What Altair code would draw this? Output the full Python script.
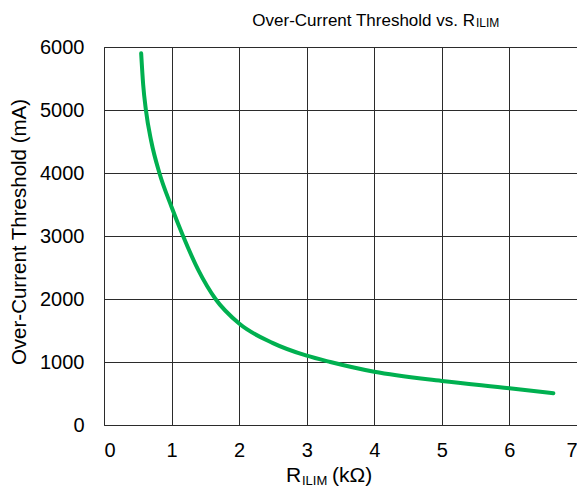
import altair as alt
import pandas as pd

# Data
r_kohm = [0.55, 0.58, 0.62, 0.70, 0.82, 1.00, 1.17, 1.40, 1.65, 2.00, 2.50, 3.00, 3.35, 4.00, 5.00, 6.00, 6.65]
ocp_ma = [5900, 5400, 5000, 4500, 4000, 3460, 3000, 2450, 2000, 1610, 1300, 1100, 1000, 845, 700, 585, 505]

x_ticks = [0, 1, 2, 3, 4, 5, 6, 7]
y_ticks = [0, 1000, 2000, 3000, 4000, 5000, 6000]

title_main = "Over-Current Threshold vs. R"
title_sub = "ILIM"
xtitle_main = "R"
xtitle_sub = "ILIM"
xtitle_unit = "(kΩ)"
ytitle = "Over-Current Threshold (mA)"

FONT = "Liberation Sans"
GRID = "#2b2b2b"

df = pd.DataFrame({"r": r_kohm, "i": ocp_ma})

W, H = 473, 378

line = alt.Chart(df).mark_line(
    color="#00B050", strokeWidth=4, interpolate="monotone", strokeCap="round"
).encode(
    x=alt.X("r:Q", scale=alt.Scale(domain=[0, 7], nice=False),
            axis=alt.Axis(values=x_ticks, title=None, grid=True, gridColor=GRID,
                          gridOpacity=1, ticks=False, domain=False, labelFontSize=20,
                          labelFont=FONT, labelColor="#000", labelPadding=15,
                          format="d")),
    y=alt.Y("i:Q", scale=alt.Scale(domain=[0, 6000], nice=False),
            axis=alt.Axis(values=y_ticks, title=None, grid=True, gridColor=GRID,
                          gridOpacity=1, ticks=False, domain=False, labelFontSize=20,
                          labelFont=FONT, labelColor="#000", labelPadding=20,
                          format="d")),
)

def txt(text, x, y, size, align="left", angle=0):
    kw = dict(text=text, font=FONT, fontSize=size, align=align, color="#000")
    if angle:
        kw["angle"] = angle
        kw["baseline"] = "middle"
    else:
        kw["baseline"] = "alphabetic"
    return alt.Chart().mark_text(**kw).encode(x=alt.value(x), y=alt.value(y))

t1 = txt(title_main, 371, -21, 17, align="right")
t2 = txt(title_sub, 372, -20, 12)
xt1 = txt(xtitle_main, 182, 435, 21)
xt2 = txt(xtitle_sub, 198, 438, 13)
xt3 = txt(xtitle_unit, 228, 435, 21)
yt = txt(ytitle, -84, 185, 20.5, align="center", angle=270)

chart = alt.layer(line, t1, t2, xt1, xt2, xt3, yt).properties(
    width=W, height=H,
    autosize=alt.AutoSizeParams(type="none"),
    padding={"left": 96, "top": 39, "right": 0, "bottom": 66},
).configure_view(stroke=GRID, strokeWidth=1)

chart.save("out.html", embed_options={"renderer": "svg", "actions": False})
